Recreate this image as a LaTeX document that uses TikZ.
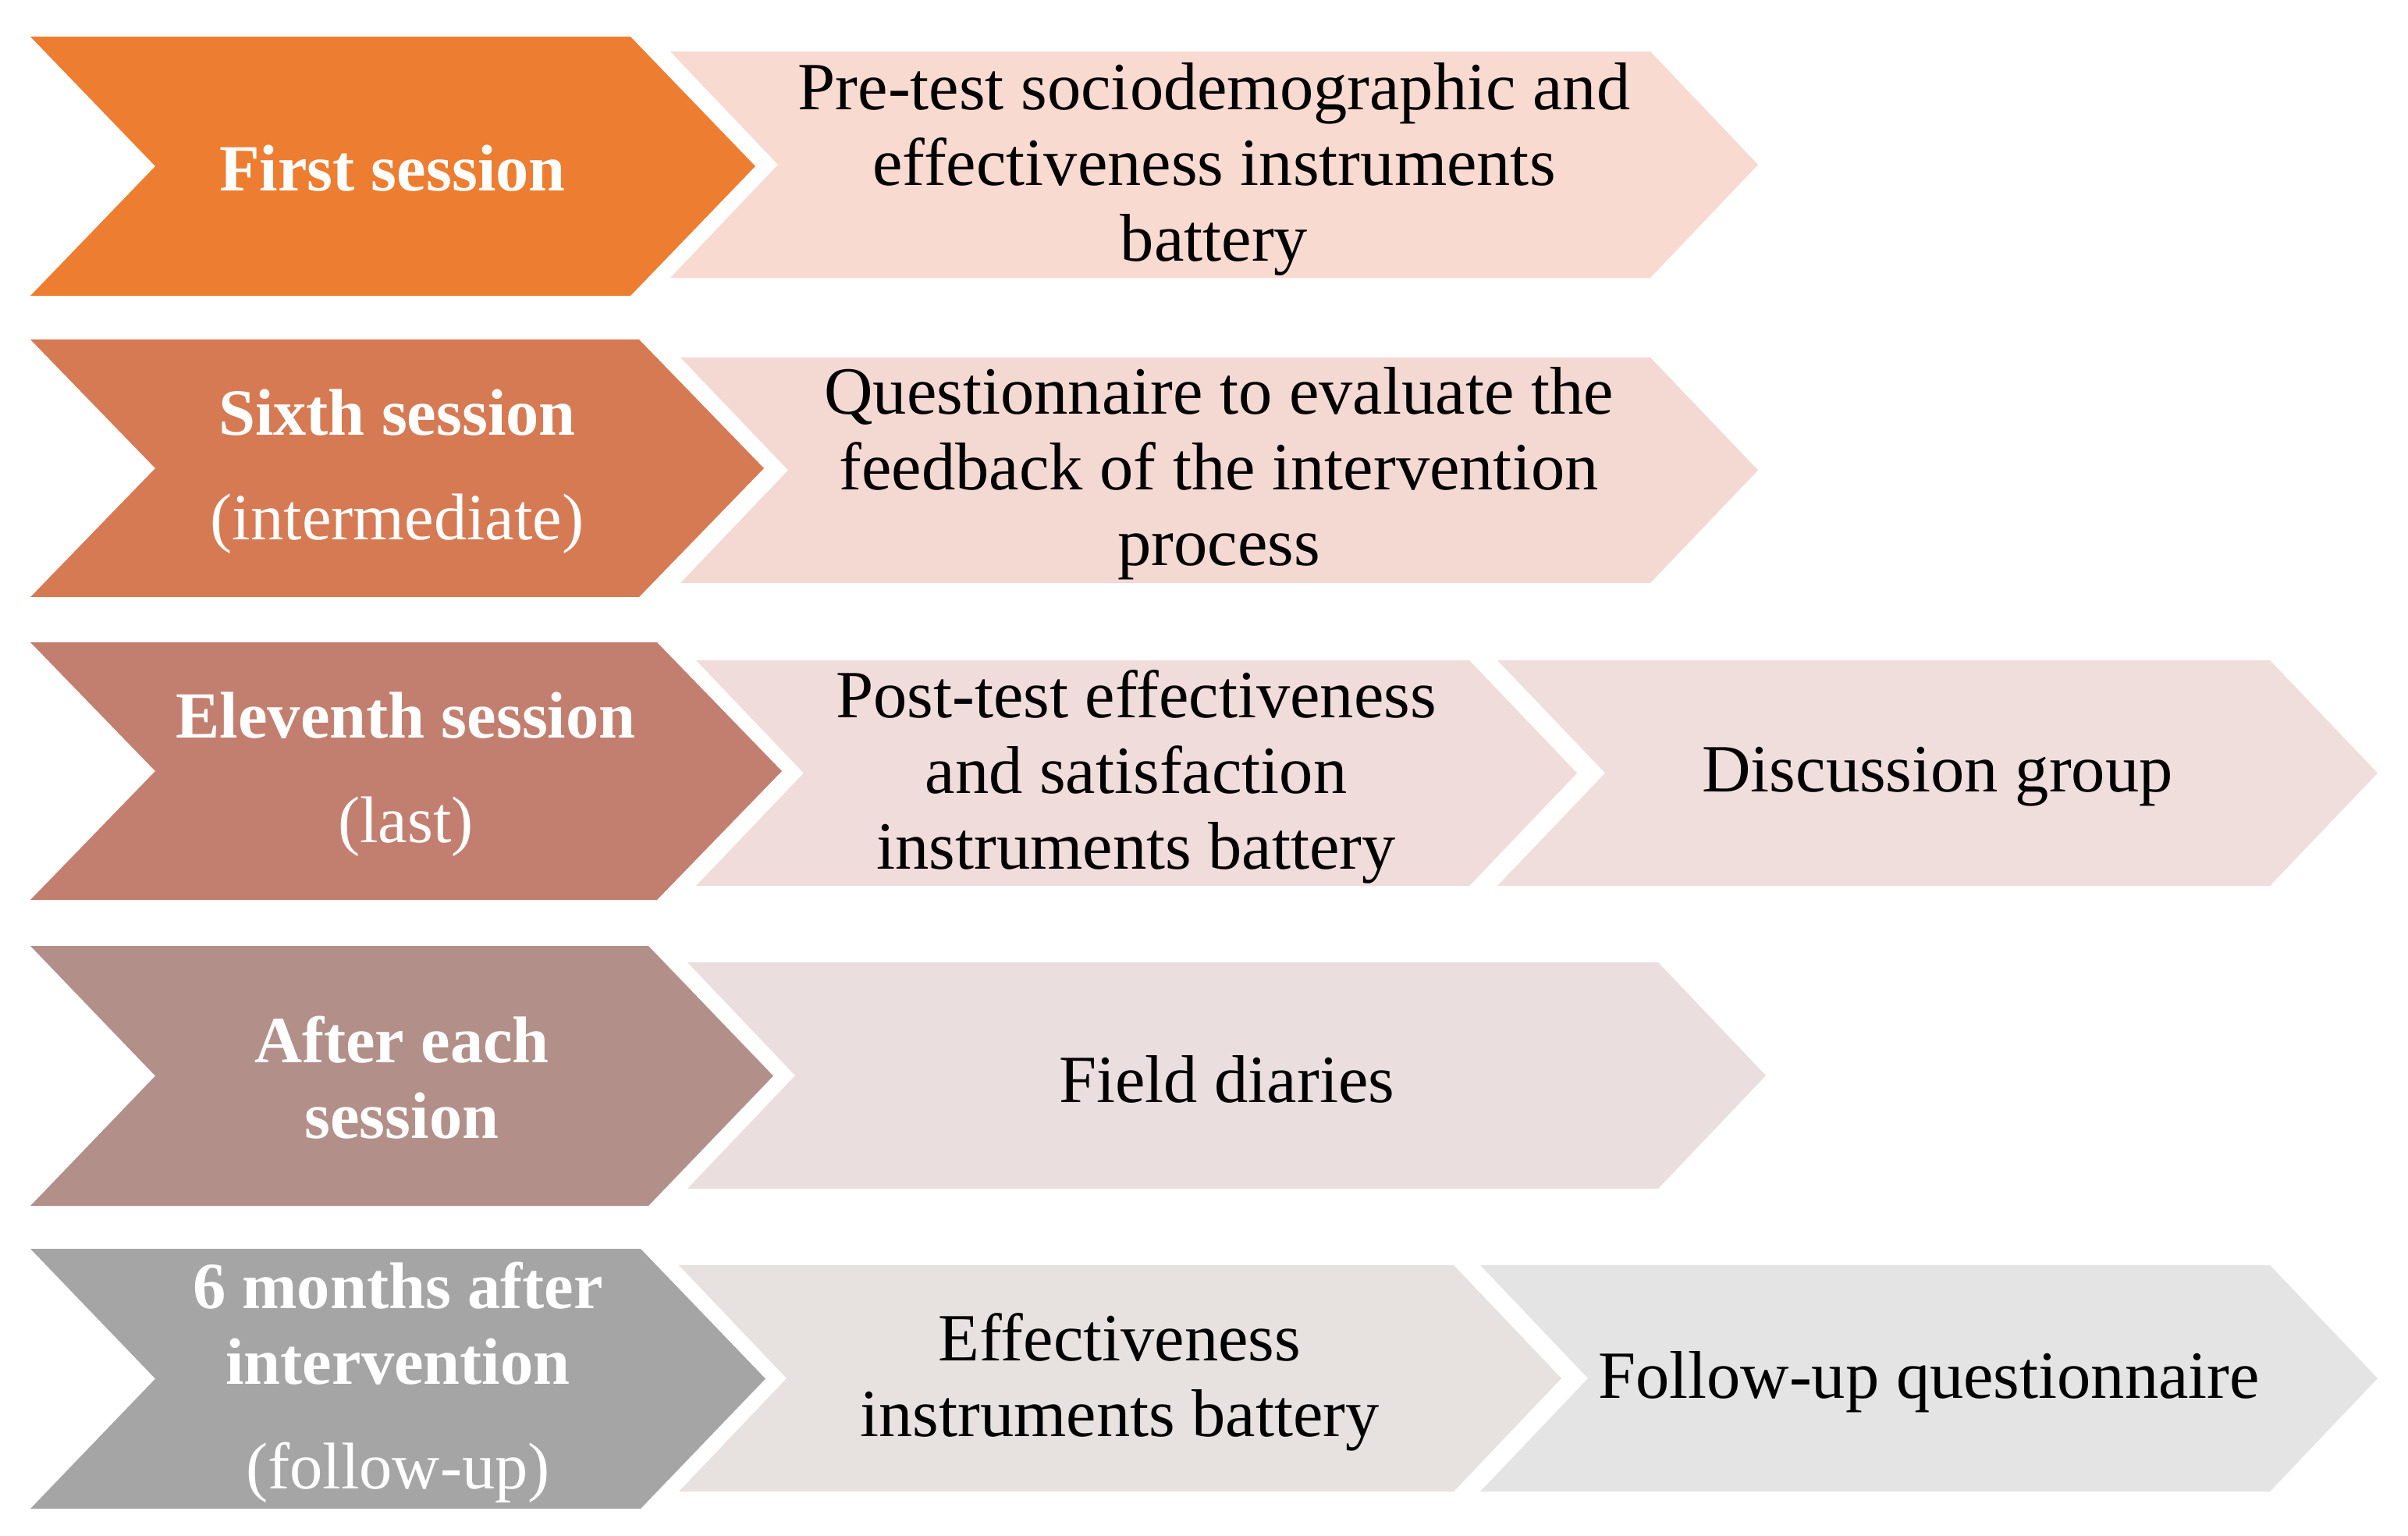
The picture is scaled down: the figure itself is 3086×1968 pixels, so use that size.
\documentclass[tikz,border=0pt]{standalone}
\usepackage{fontspec}
\setmainfont{Liberation Serif}

\definecolor{mainA}{RGB}{237,125,49}
\definecolor{mainB}{RGB}{214,122,84}
\definecolor{mainC}{RGB}{194,127,112}
\definecolor{mainD}{RGB}{179,143,137}
\definecolor{mainE}{RGB}{165,165,165}
\definecolor{subA}{RGB}{248,218,208}
\definecolor{subB}{RGB}{244,217,211}
\definecolor{subC}{RGB}{240,220,218}
\definecolor{subCC}{RGB}{239,222,220}
\definecolor{subD}{RGB}{235,222,222}
\definecolor{subE}{RGB}{231,225,224}
\definecolor{subEE}{RGB}{228,228,228}

% chevron: left, right, top, bottom, depth, colour
\newcommand{\Chevron}[6]{%
  \fill[#6] (#1,#3) -- ({#2-#5},#3) -- (#2,{(#3+#4)/2}) -- ({#2-#5},#4)
    -- (#1,#4) -- ({#1+#5},{(#3+#4)/2}) -- cycle;}

\begin{document}
\begin{tikzpicture}[x=0.2pt,y=-0.2pt,
	mainlbl/.style={align=center,inner sep=0pt,text=white,font=\fontsize{16.9}{19.4}\selectfont},
	sublbl/.style={align=center,inner sep=0pt,text=black,font=\fontsize{17.3}{19.4}\selectfont}]
	\useasboundingbox (0,0) rectangle (3086,1968);

	% left column
	\Chevron{39}{968}{47}{379}{160}{mainA}
	\Chevron{39}{979}{435}{765}{160}{mainB}
	\Chevron{39}{1002}{823}{1153}{160}{mainC}
	\Chevron{39}{991}{1212}{1545}{160}{mainD}
	\Chevron{39}{981}{1600}{1933}{160}{mainE}

	% right columns
	\Chevron{859}{2253}{66}{356}{138}{subA}
	\Chevron{872}{2253}{458}{747}{138}{subB}
	\Chevron{892}{2021}{846}{1135}{138}{subC}
	\Chevron{1919}{3047}{846}{1135}{138}{subCC}
	\Chevron{881}{2263}{1233}{1523}{138}{subD}
	\Chevron{870}{2001}{1621}{1911}{138}{subE}
	\Chevron{1897}{3047}{1621}{1911}{138}{subEE}

	\node[mainlbl] (first)    at (503,216)  {\bfseries First session};
	\node[mainlbl] (sixth)    at (509,604)  {\bfseries Sixth session\\[7.4pt](intermediate)};
	\node[mainlbl] (eleventh) at (520,992)  {\bfseries Eleventh session\\[7.4pt](last)};
	\node[mainlbl] (after)    at (515,1381) {\bfseries After each\\\bfseries session};
	\node[mainlbl] (months)   at (510,1771) {\bfseries 6 months after\\\bfseries intervention\\[7.4pt](follow-up)};

	\node[sublbl] (pretest)       at (1556,217)  {Pre-test sociodemographic and\\effectiveness instruments\\battery};
	\node[sublbl] (questionnaire) at (1562,607)  {Questionnaire to evaluate the\\feedback of the intervention\\process};
	\node[sublbl] (posttest)      at (1456,995)  {Post-test effectiveness\\and satisfaction\\instruments battery};
	\node[sublbl] (discussion)    at (2483,995)  {Discussion group};
	\node[sublbl] (diaries)       at (1572,1383) {Field diaries};
	\node[sublbl] (effectiveness) at (1435,1771) {Effectiveness\\instruments battery};
	\node[sublbl] (followup)      at (2472,1771) {Follow-up questionnaire};
\end{tikzpicture}
\end{document}
